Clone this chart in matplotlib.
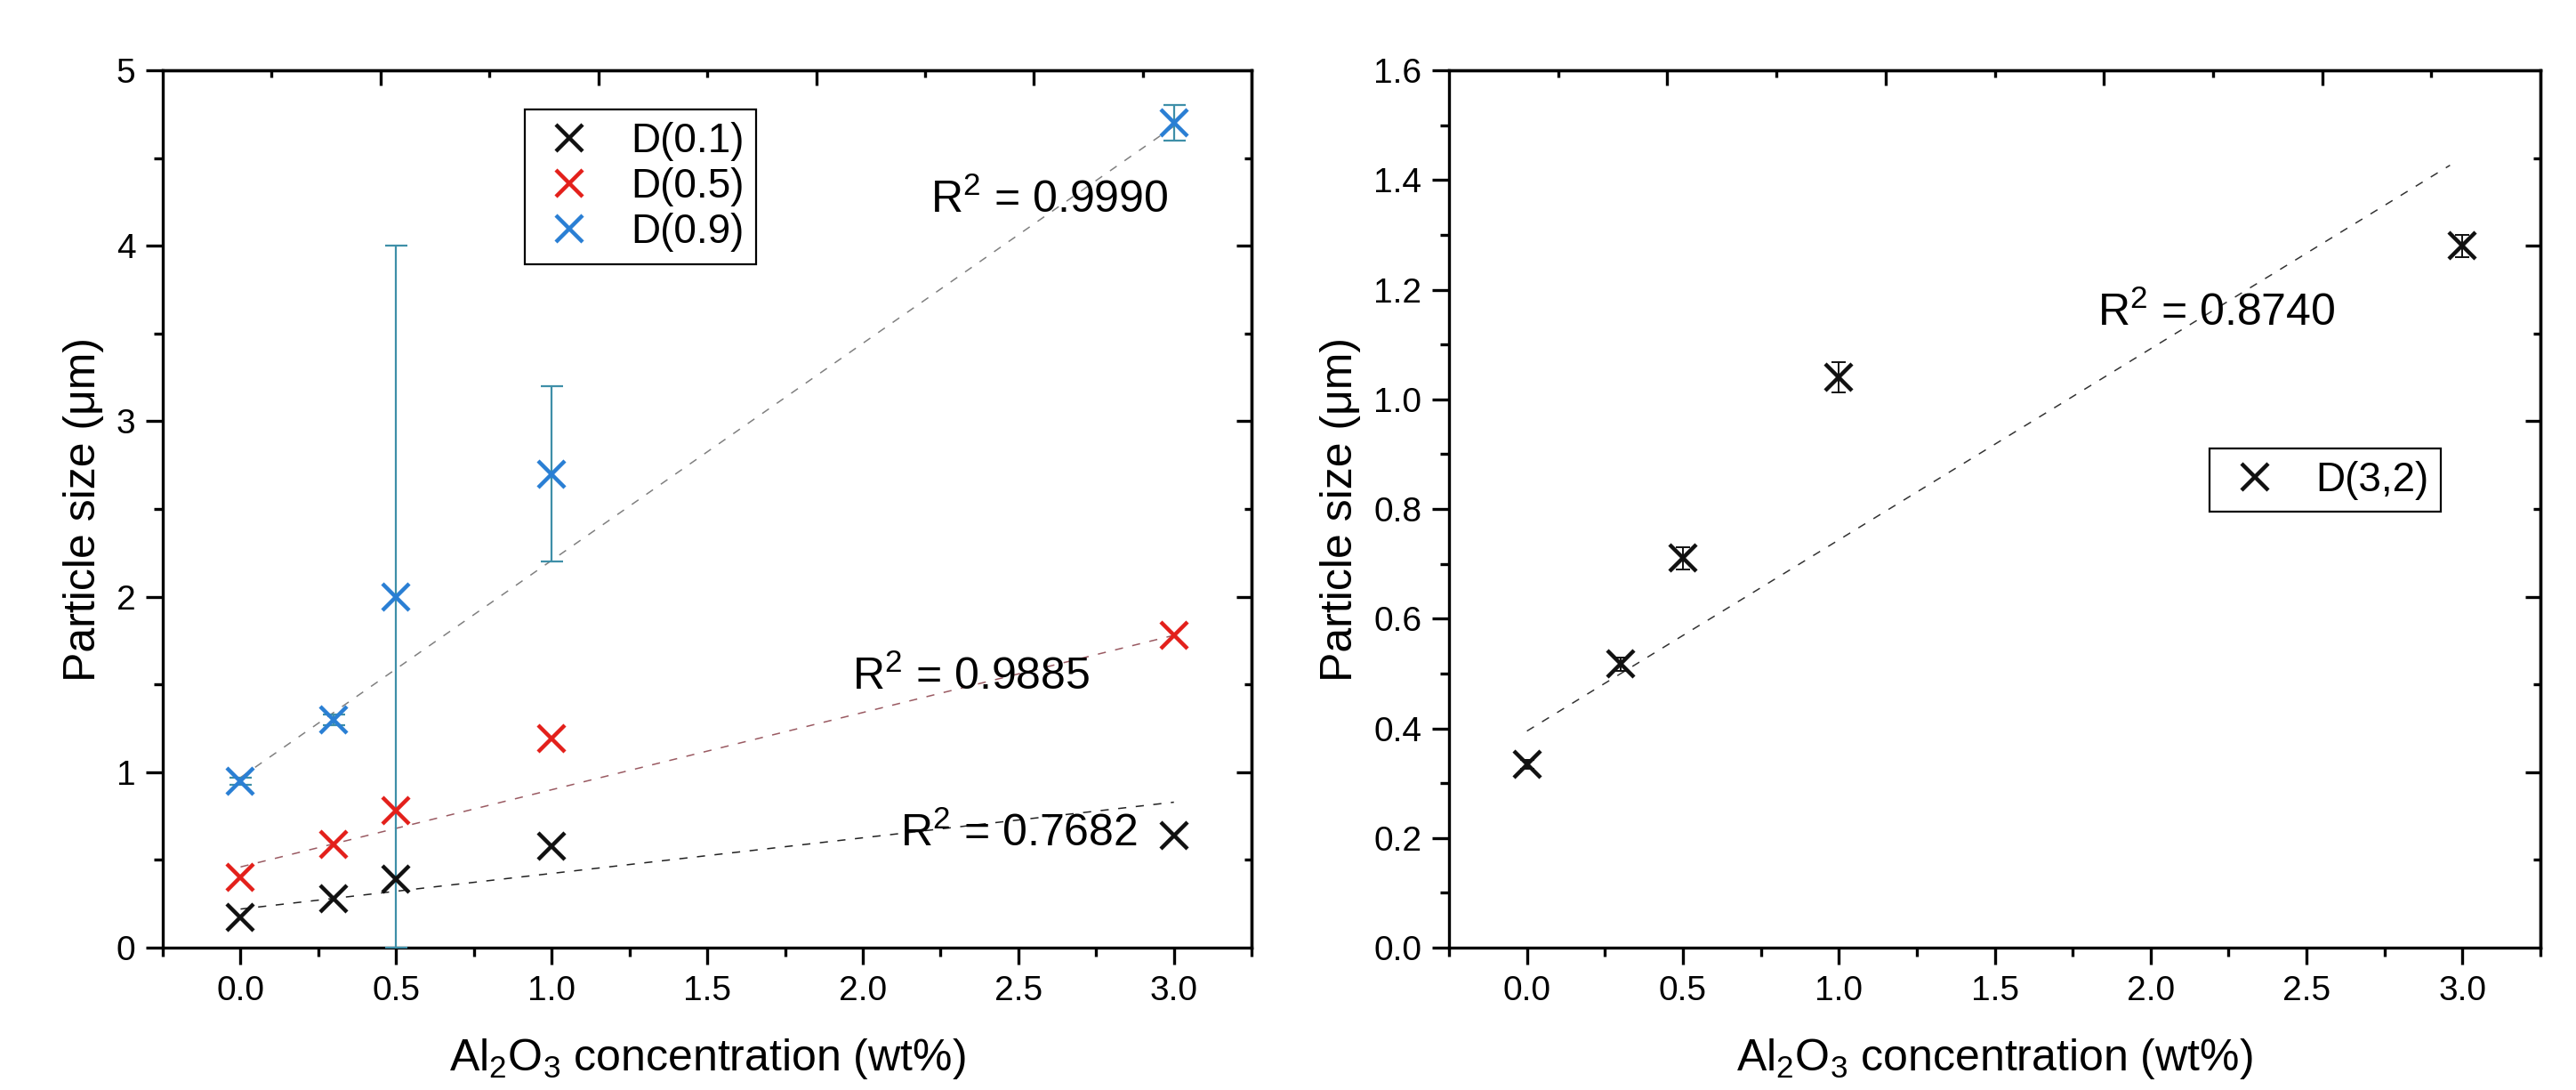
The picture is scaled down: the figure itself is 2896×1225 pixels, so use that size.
import matplotlib
matplotlib.use("Agg")
import matplotlib.pyplot as plt
from matplotlib.ticker import MultipleLocator, FormatStrFormatter
import numpy as np

plt.rcParams['font.family'] = ['Liberation Sans', 'DejaVu Sans']
plt.rcParams['mathtext.fontset'] = 'custom'
plt.rcParams['mathtext.rm'] = 'Liberation Sans'

# ---------------- data ----------------
conc = [0.0, 0.3, 0.5, 1.0, 3.0]

d01 = [0.17, 0.28, 0.39, 0.58, 0.64]
d05 = [0.40, 0.59, 0.78, 1.19, 1.78]
d09 = [0.95, 1.30, 2.00, 2.70, 4.70]
d09_err = [0.02, 0.03, 2.00, 0.50, 0.10]

d32 = [0.335, 0.517, 0.710, 1.040, 1.280]
d32_err = [0.008, 0.012, 0.020, 0.028, 0.020]

# linear trend lines (intercept, slope) and R^2 labels
fit_d01 = (0.22, 0.203)
fit_d05 = (0.46, 0.440)
fit_d09 = (0.97, 1.237)
fit_d32 = (0.395, 0.3486)
fit_x = [0.0, 3.0]
fit_x_right = [0.0, 2.96]

r2_labels_left = ['R$^\\mathregular{2}$ = 0.9990', 'R$^\\mathregular{2}$ = 0.9885', 'R$^\\mathregular{2}$ = 0.7682']
r2_pos_left = [(2.217, 4.26), (1.966, 1.544), (2.119, 0.649)]
r2_label_right = 'R$^\\mathregular{2}$ = 0.8740'
r2_pos_right = (1.829, 1.157)

series_names = ['D(0.1)', 'D(0.5)', 'D(0.9)']
right_name = 'D(3,2)'

xlabel = 'Al$_\\mathregular{2}$O$_\\mathregular{3}$ concentration (wt%)'
ylabel = 'Particle size (\u03bcm)'

# ---------------- styles ----------------
C_BLACK = '#111111'
C_RED = '#e3201b'
C_BLUE = '#2a7fd4'
C_ERR = '#3e8fa8'
FIT_COLORS = ['#222222', '#9a5a62', '#808080']

TICK_FS = 28
LABEL_FS = 36
LEG_FS = 33
R2_FS = 36
MS = 22
MEW = 3.2

fig = plt.figure(figsize=(28.96, 12.25), dpi=100)
ax1 = fig.add_axes([0.0632, 0.1306, 0.4227, 0.8049])
ax2 = fig.add_axes([0.5625, 0.1306, 0.4237, 0.8049])


def style_axes(ax, ymax, ymajor, yminor, yfmt):
    ax.set_xlim(-0.25, 3.25)
    ax.set_ylim(0, ymax)
    ax.xaxis.set_major_locator(MultipleLocator(0.5))
    ax.xaxis.set_minor_locator(MultipleLocator(0.25))
    ax.xaxis.set_major_formatter(FormatStrFormatter('%.1f'))
    ax.yaxis.set_major_locator(MultipleLocator(ymajor))
    ax.yaxis.set_minor_locator(MultipleLocator(yminor))
    ax.yaxis.set_major_formatter(FormatStrFormatter(yfmt))
    for s in ax.spines.values():
        s.set_linewidth(2.4)
        s.set_color('black')
    ax.tick_params(which='both', direction='out', top=False, right=False,
                   width=2.4, colors='black', labelsize=TICK_FS, pad=8)
    ax.tick_params(which='major', length=14)
    ax.tick_params(which='minor', length=7)
    ax.set_xlabel(xlabel, fontsize=LABEL_FS, labelpad=24)
    ax.set_ylabel(ylabel, fontsize=LABEL_FS, labelpad=10)
    # mirrored axes with Origin-like independent ticks
    sx = ax.secondary_xaxis('top', functions=(lambda x: (x + 0.25) / 3.5,
                                               lambda f: f * 3.5 - 0.25))
    sx.set_xticks([0.2, 0.4, 0.6, 0.8])
    sx.set_xticks([0.1, 0.3, 0.5, 0.7, 0.9], minor=True)
    sx.tick_params(which='both', direction='in', labeltop=False, width=2.4)
    sx.tick_params(which='major', length=12)
    sx.tick_params(which='minor', length=6)
    sx.spines['top'].set_linewidth(2.4)
    sy = ax.secondary_yaxis('right', functions=(lambda y: y / ymax,
                                                 lambda f: f * ymax))
    sy.set_yticks([0.2, 0.4, 0.6, 0.8])
    sy.set_yticks([0.1, 0.3, 0.5, 0.7, 0.9], minor=True)
    sy.tick_params(which='both', direction='in', labelright=False, width=2.4)
    sy.tick_params(which='major', length=12)
    sy.tick_params(which='minor', length=6)
    sy.spines['right'].set_linewidth(2.4)


style_axes(ax1, 5, 1, 0.5, '%d')
style_axes(ax2, 1.6, 0.2, 0.1, '%.1f')

xf = np.array(fit_x)
xfr = np.array(fit_x_right)

# ---------------- left panel ----------------
for (b, m), c in zip([fit_d01, fit_d05, fit_d09], FIT_COLORS):
    ax1.plot(xf, b + m * xf, linestyle=(0, (6, 7)), color=c, lw=1.1, zorder=2)

ax1.errorbar(conc, d09, yerr=d09_err, fmt='none', ecolor=C_ERR,
             elinewidth=1.6, capsize=9, capthick=1.6, zorder=3)

h1, = ax1.plot(conc, d01, linestyle='none', marker='x', ms=MS, mew=MEW,
               color=C_BLACK, label=series_names[0], zorder=4)
h2, = ax1.plot(conc, d05, linestyle='none', marker='x', ms=MS, mew=MEW,
               color=C_RED, label=series_names[1], zorder=4)
h3, = ax1.plot(conc, d09, linestyle='none', marker='x', ms=MS, mew=MEW,
               color=C_BLUE, label=series_names[2], zorder=4)

for txt, (tx, ty) in zip(r2_labels_left, r2_pos_left):
    ax1.text(tx, ty, txt, fontsize=R2_FS, ha='left', va='center', zorder=5)

leg1 = ax1.legend(handles=[h1, h2, h3], loc='upper left',
                  bbox_to_anchor=(0.3325, 0.955), fontsize=LEG_FS,
                  frameon=True, fancybox=False, framealpha=1,
                  edgecolor='black', borderpad=0.3, handlelength=1.6,
                  handletextpad=0.7, labelspacing=0.15, borderaxespad=0,
                  markerscale=0.95)
leg1.get_frame().set_linewidth(1.6)

# ---------------- right panel ----------------
b, m = fit_d32
ax2.plot(xfr, b + m * xfr, linestyle=(0, (6, 7)), color='#333333', lw=1.1, zorder=2)
ax2.errorbar(conc, d32, yerr=d32_err, fmt='none', ecolor=C_BLACK,
             elinewidth=1.4, capsize=6, capthick=1.4, zorder=3)
h4, = ax2.plot(conc, d32, linestyle='none', marker='x', ms=MS, mew=MEW,
               color=C_BLACK, label=right_name, zorder=4)
ax2.text(r2_pos_right[0], r2_pos_right[1], r2_label_right, fontsize=R2_FS,
         ha='left', va='center', zorder=5)

leg2 = ax2.legend(handles=[h4], loc='upper left',
                  bbox_to_anchor=(0.697, 0.569), fontsize=LEG_FS,
                  frameon=True, fancybox=False, framealpha=1,
                  edgecolor='black', borderpad=0.3, handlelength=1.6,
                  handletextpad=0.7, borderaxespad=0, markerscale=0.95)
leg2.get_frame().set_linewidth(1.6)

fig.savefig('out.png', dpi=100, facecolor='white')
